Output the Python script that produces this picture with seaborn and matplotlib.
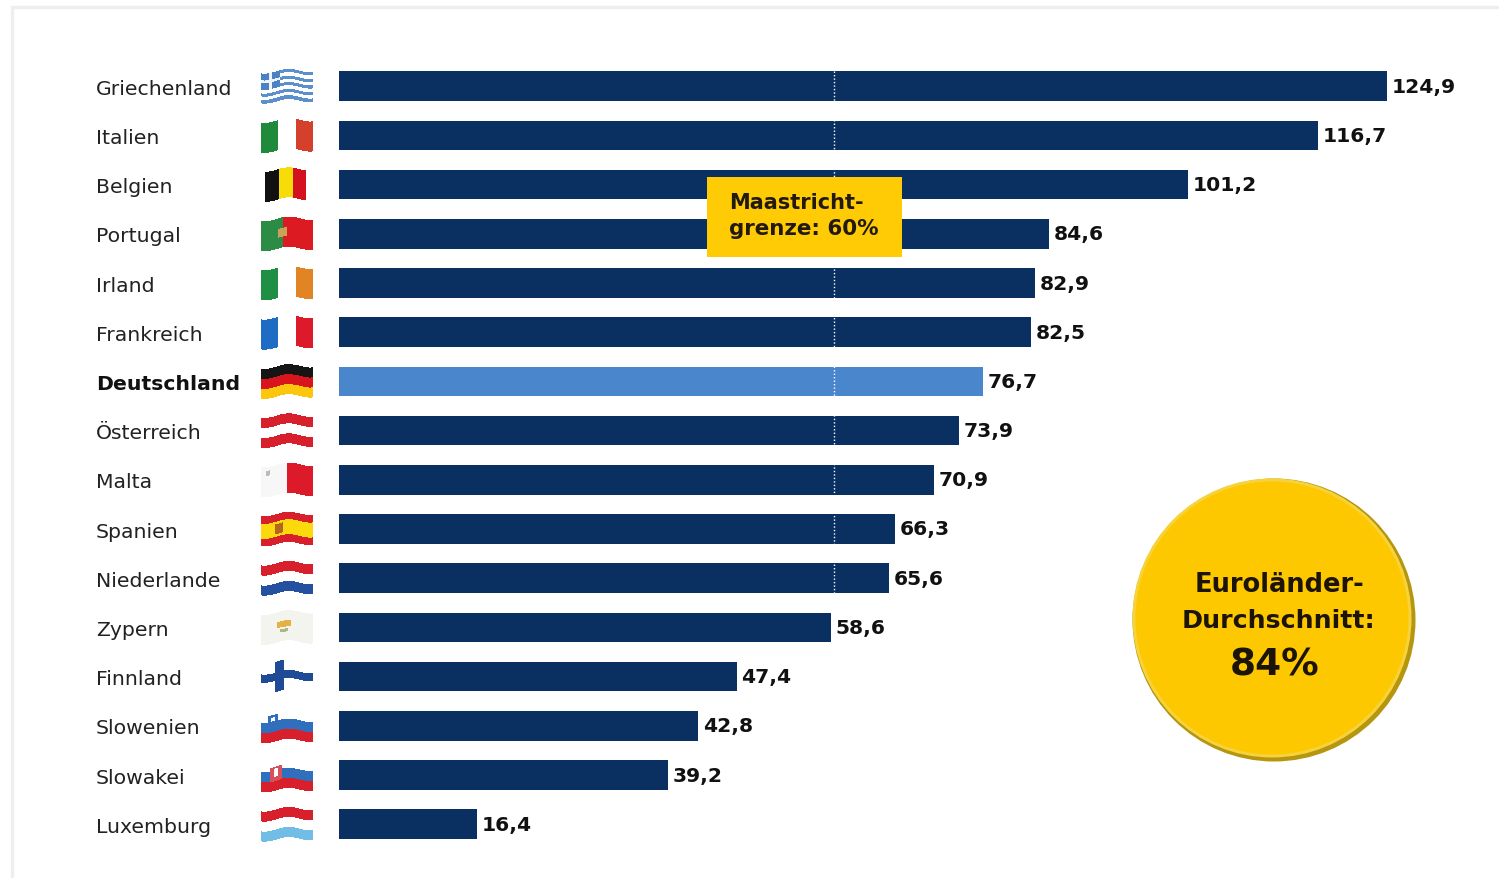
import numpy as np
import pandas as pd
import matplotlib
matplotlib.use("Agg")
import matplotlib.pyplot as plt
from matplotlib.colors import to_rgb
from matplotlib.patches import Circle, Rectangle
import seaborn as sns

# Staatsverschuldung in % des BIP
laender = ["Griechenland", "Italien", "Belgien", "Portugal", "Irland", "Frankreich",
           "Deutschland", "Österreich", "Malta", "Spanien", "Niederlande", "Zypern",
           "Finnland", "Slowenien", "Slowakei", "Luxemburg"]
werte = [124.9, 116.7, 101.2, 84.6, 82.9, 82.5, 76.7, 73.9, 70.9, 66.3, 65.6, 58.6,
         47.4, 42.8, 39.2, 16.4]
gruppe = ["de" if l == "Deutschland" else "rest" for l in laender]
grenzlinie = 59.0   # so steht die Linie im Bild, auch wenn der Kasten 60% sagt
letzter_balken_mit_linie = "Niederlande"

W, H = 1499, 879
NAVY = "#0a2f61"
HELLBLAU = "#4a86cb"
GELB = "#ffcb05"
TEXT = "#222222"

# Flaggen als Rechtecke (u0, u1, v0, v1, Farbe), v von oben nach unten
ROT = "#d8202c"
GR_BLAU = "#5b90cc"
flaggen = {
    "Griechenland": [(0, 1, 0.0, 0.11, GR_BLAU), (0, 1, 0.22, 0.33, GR_BLAU),
                     (0, 1, 0.44, 0.55, GR_BLAU), (0, 1, 0.66, 0.77, GR_BLAU),
                     (0, 1, 0.88, 1, GR_BLAU), (0, 0.36, 0, 0.55, "#4a82c4"),
                     (0.15, 0.21, 0, 0.55, "#eef3fa"), (0, 0.36, 0.23, 0.32, "#eef3fa")],
    "Italien": [(0, 0.33, 0, 1, "#1f8a3c"), (0.67, 1, 0, 1, "#d5402c")],
    "Belgien": [(0.07, 0.34, 0, 1, "#111111"), (0.34, 0.62, 0, 1, "#f7dc0a"),
                (0.62, 0.88, 0, 1, "#d4121f")],
    "Portugal": [(0, 0.42, 0, 1, "#2c8c46"), (0.42, 1, 0, 1, "#dc1a22"),
                 (0.33, 0.5, 0.35, 0.65, "#c9a25a")],
    "Irland": [(0, 0.33, 0, 1, "#1f8f45"), (0.67, 1, 0, 1, "#e08424")],
    "Frankreich": [(0, 0.33, 0, 1, "#1f6cc4"), (0.67, 1, 0, 1, "#dc1a2a")],
    "Deutschland": [(0, 1, 0, 0.33, "#151515"), (0, 1, 0.33, 0.67, "#d8141c"),
                    (0, 1, 0.67, 1, "#fbc60c")],
    "Österreich": [(0, 1, 0, 0.33, ROT), (0, 1, 0.67, 1, ROT)],
    "Malta": [(0, 0.5, 0, 1, "#f7f7f7"), (0.5, 1, 0, 1, "#dc1a2a"),
              (0.1, 0.17, 0.12, 0.3, "#bbbbbb")],
    "Spanien": [(0, 1, 0, 0.25, "#d8202c"), (0, 1, 0.25, 0.75, "#fbd90c"),
                (0, 1, 0.75, 1, "#d8202c"), (0.27, 0.42, 0.33, 0.67, "#b5651d")],
    "Niederlande": [(0, 1, 0, 0.33, ROT), (0, 1, 0.67, 1, "#23509f")],
    "Zypern": [(0, 1, 0, 1, "#f4f4ee"), (0.3, 0.58, 0.33, 0.55, "#e5b143"),
               (0.36, 0.52, 0.6, 0.7, "#a9b98a")],
    "Finnland": [(0, 1, 0.36, 0.62, "#1f4a96"), (0.27, 0.44, 0, 1, "#1f4a96")],
    "Slowenien": [(0, 1, 0.33, 0.67, "#2f6fbd"), (0, 1, 0.67, 1, "#d8202c"),
                  (0.14, 0.32, 0.1, 0.42, "#2f6fbd"), (0.19, 0.27, 0.18, 0.32, "white")],
    "Slowakei": [(0, 1, 0.33, 0.67, "#2f6fbd"), (0, 1, 0.67, 1, "#d8202c"),
                 (0.17, 0.4, 0.2, 0.68, "#d8505c"), (0.25, 0.32, 0.28, 0.55, "white")],
    "Luxemburg": [(0, 1, 0, 0.33, ROT), (0, 1, 0.67, 1, "#72bde6")],
}


def draw_flag(ax, spec, cx, cy, w=52, h=30, n_u=80, n_v=48):
    img = np.ones((n_v, n_u, 3))
    for u0, u1, v0, v1, farbe in spec:
        img[int(round(v0 * n_v)):int(round(v1 * n_v)),
            int(round(u0 * n_u)):int(round(u1 * n_u))] = to_rgb(farbe)
    u, v = np.meshgrid(np.linspace(0, 1, n_u + 1), np.linspace(0, 1, n_v + 1))
    x = cx - w / 2 + u * w
    y = cy - h / 2 + v * h + 2.0 * np.sin(2 * np.pi * (1.15 * u + 0.15)) - 1.5 * (u - 0.5)
    ax.pcolormesh(x, y, img, shading="flat", antialiased=False, linewidth=0)


sns.set_theme(style="white")
plt.rcParams["font.family"] = ["DejaVu Sans"]

df = pd.DataFrame({"land": laender, "wert": werte, "gruppe": gruppe})

fig = plt.figure(figsize=(W / 100, H / 100), dpi=100, facecolor="white")

# 8.39 px pro Prozentpunkt, Null bei x=339
ax = fig.add_axes([339 / W, 0, (W - 339) / W, 1])
sns.barplot(data=df, y="land", x="wert", hue="gruppe", order=laender,
            palette={"rest": NAVY, "de": HELLBLAU}, dodge=False, width=0.6,
            saturation=1, legend=False, linewidth=0, ax=ax)
ax.set_xlim(0, (W - 339) / 8.39)
ax.set_ylim((H - 87.2) / 49.2, -87.2 / 49.2)
ax.set_xlabel("")
ax.set_ylabel("")
ax.set_xticks([])
ax.patch.set_alpha(0)
sns.despine(ax=ax, left=True, bottom=True)

ax.tick_params(axis="y", length=0, pad=243 * 0.72, labelsize=14.7, labelcolor=TEXT)
for lab in ax.get_yticklabels():
    lab.set_horizontalalignment("left")
    if lab.get_text() == "Deutschland":
        lab.set_fontweight("bold")
        lab.set_color("#111111")

for i, v in enumerate(werte):
    ax.annotate(f"{v:.1f}".replace(".", ","), (v, i), xytext=(3.5, 0),
                textcoords="offset points", va="center", ha="left",
                fontsize=14.6, fontweight="bold", color="#111111")

# gepunktete Linie der Maastricht-Grenze
ax.vlines(grenzlinie, -0.3, laender.index(letzter_balken_mit_linie) + 0.3,
          color="white", lw=1, linestyles=(0, (1, 1.5)), zorder=4)

# Overlay in Pixelkoordinaten fuer Rahmen, Flaggen, Kasten, Kreis
deko = fig.add_axes([0, 0, 1, 1])
deko.set_xlim(0, W)
deko.set_ylim(H, 0)
deko.axis("off")
deko.patch.set_alpha(0)

deko.plot([12, 12, W], [H, 8, 8], color="#eeeeee", lw=2.5, solid_joinstyle="miter")

for i, land in enumerate(laender):
    draw_flag(deko, flaggen[land], 287, 87 + 49.2 * i)

deko.add_patch(Rectangle((707, 178), 195, 80, facecolor=GELB, edgecolor="none", zorder=5))
deko.text(729, 203.5, "Maastricht-", fontsize=15, fontweight="bold", color="#221a10",
          va="center", ha="left", zorder=6)
deko.text(729, 229, "grenze: 60%", fontsize=15.4, fontweight="bold", color="#221a10",
          va="center", ha="left", zorder=6)

deko.add_patch(Circle((1274, 621), 141.5, facecolor="#b6950f", edgecolor="none", zorder=5))
deko.add_patch(Circle((1272, 619), 139.5, facecolor="#f6d23c", edgecolor="none", zorder=6))
deko.add_patch(Circle((1272, 619), 136.5, facecolor="#fdc800", edgecolor="none", zorder=7))
deko.text(1280, 585, "Euroländer-", fontsize=18.5, fontweight="bold", color="#1d1408",
          ha="center", va="center", zorder=8)
deko.text(1279, 621, "Durchschnitt:", fontsize=18.2, fontweight="bold", color="#1d1408",
          ha="center", va="center", zorder=8)
deko.text(1275, 666, "84%", fontsize=27, fontweight="bold", color="#1d1408",
          ha="center", va="center", zorder=8)

fig.savefig("out.png", dpi=100, facecolor="white")
